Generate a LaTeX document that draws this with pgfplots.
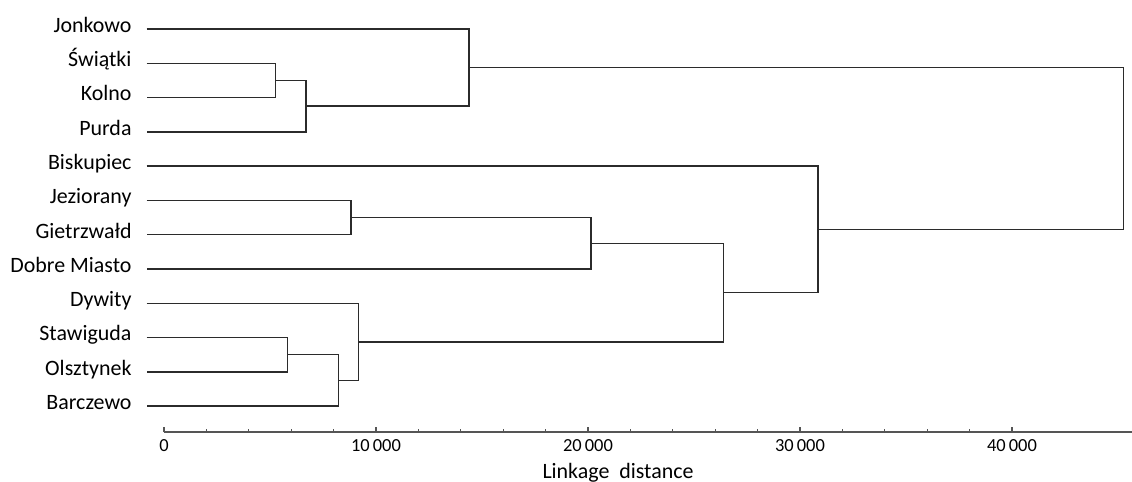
\documentclass[border=0pt]{standalone}
\usepackage{fontspec}
\setmainfont{Carlito}
\usepackage{pgfplots}
\pgfplotsset{compat=1.18}

\definecolor{linkcol}{HTML}{2B2B2B}
\definecolor{axcol}{HTML}{555555}

\begin{document}
\begin{tikzpicture}
\begin{axis}[
    x=0.0212bp, y=34.27bp,
    xmin=0, xmax=45660,
    ymin=0.241, ymax=12.85,
    enlargelimits=false,
    clip=false,
    axis x line=bottom,
    axis y line=none,
    x axis line style={-, color=axcol, line width=1.5bp},
    xtick={0,10000,20000,30000,40000},
    minor x tick num=4,
    tick align=inside,
    major tick length=5bp,
    minor tick length=3bp,
    every tick/.style={color=axcol, line width=1.2bp},
    ytick=\empty,
    scaled x ticks=false,
    /pgf/number format/assume math mode=true,
    /pgf/number format/1000 sep={\,},
    xticklabel style={font=\fontsize{18.5}{21}\selectfont, anchor=base, yshift=-19bp, inner sep=0pt},
    link/.style={color=linkcol, line width=1.5bp, mark=none},
]
% leaf lines start at x = -816; leaves numbered 12 (Jonkowo) .. 1 (Barczewo)
\addplot[link] coordinates {(-816,11) (5270,11) (5270,10) (-816,10)};
\addplot[link] coordinates {(5270,10.5) (6700,10.5) (6700,9) (-816,9)};
\addplot[link] coordinates {(-816,12) (14390,12) (14390,9.75) (6700,9.75)};
\addplot[link] coordinates {(-816,7) (8810,7) (8810,6) (-816,6)};
\addplot[link] coordinates {(8810,6.5) (20130,6.5) (20130,5) (-816,5)};
\addplot[link] coordinates {(-816,3) (5820,3) (5820,2) (-816,2)};
\addplot[link] coordinates {(5820,2.5) (8220,2.5) (8220,1) (-816,1)};
\addplot[link] coordinates {(-816,4) (9170,4) (9170,1.75) (8220,1.75)};
\addplot[link] coordinates {(20130,5.75) (26380,5.75) (26380,2.875) (9170,2.875)};
\addplot[link] coordinates {(-816,8) (30860,8) (30860,4.3125) (26380,4.3125)};
\addplot[link] coordinates {(14390,10.875) (45250,10.875) (45250,6.15625) (30860,6.15625)};

\begin{scope}[every node/.style={anchor=mid east, inner sep=0pt, xshift=-15bp, yshift=-1bp, font=\fontsize{22}{25}\selectfont}]
\node at (axis cs:-816,12) {Jonkowo};
\node at (axis cs:-816,11) {Świątki};
\node at (axis cs:-816,10) {Kolno};
\node at (axis cs:-816,9) {Purda};
\node at (axis cs:-816,8) {Biskupiec};
\node at (axis cs:-816,7) {Jeziorany};
\node at (axis cs:-816,6) {Gietrzwałd};
\node at (axis cs:-816,5) {Dobre Miasto};
\node at (axis cs:-816,4) {Dywity};
\node at (axis cs:-816,3) {Stawiguda};
\node at (axis cs:-816,2) {Olsztynek};
\node at (axis cs:-816,1) {Barczewo};
\end{scope}
\node[anchor=base, inner sep=0pt, font=\fontsize{22}{25}\selectfont] at (axis cs:21415,-1.11) {Linkage\ \ distance};

\coordinate (bl) at (axis cs:-7736,-1.189);
\coordinate (tr) at (axis cs:45660,12.846);
\end{axis}
\pgfresetboundingbox
\useasboundingbox (bl) rectangle (tr);
\end{tikzpicture}
\end{document}
